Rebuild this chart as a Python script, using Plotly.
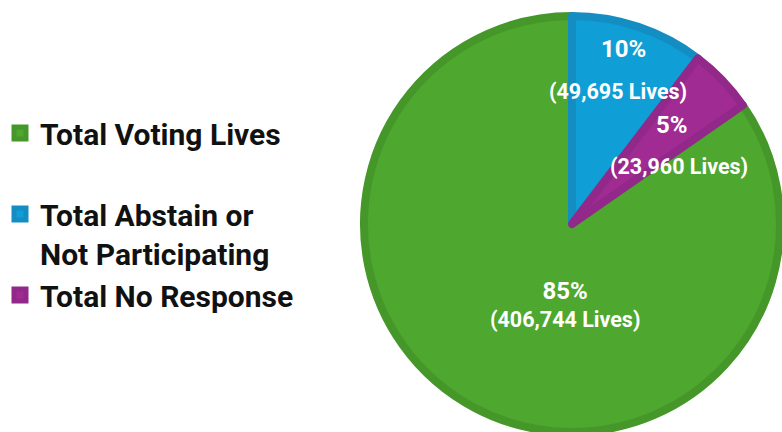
import plotly.graph_objects as go

# ---- data ----
labels = ["Total Voting Lives", "Total Abstain or Not Participating", "Total No Response"]
legend_text = ["Total Voting Lives<br> ", "Total Abstain or<br>Not Participating", "Total No Response"]
lives = [406744, 49695, 23960]

# ---- styles ----
fill_colors = ["#4EA72E", "#0F9ED5", "#A02B93"]
edge_colors = ["#45972A", "#148EC2", "#922889"]
W, H = 782, 432

total = sum(lives)
pct_text = [f"{round(100 * v / total)}%" for v in lives]
lives_text = [f"({v:,} Lives)" for v in lives]
rotation = 360.0 * (1 - lives[0] / total)

# pie placement (pixels)
cx, cy, r = 572, 224, 208

fig = go.Figure(
    go.Pie(
        labels=legend_text,
        values=lives,
        sort=False,
        direction="clockwise",
        rotation=rotation,
        textinfo="none",
        hoverinfo="label+value+percent",
        marker=dict(colors=fill_colors, line=dict(color=edge_colors, width=8)),
        domain=dict(x=[(cx - r) / W, min(1, (cx + r) / W)], y=[max(0, 1 - (cy + r) / H), 1 - (cy - r) / H]),
    )
)

ann = []
# large slice: two-line label in one text block
ann.append(dict(x=565 / W, y=1 - 304 / H, xref="paper", yref="paper",
                text=f"<span style='font-size:24px'><b>{pct_text[0]}</b></span><br><b>{lives_text[0]}</b>",
                showarrow=False, font=dict(family="Roboto", size=21.5, color="white"),
                xanchor="center", yanchor="middle", align="center"))
# small slices: percent and lives placed separately
pct_pos = [None, (623, 49), (672, 125)]
lives_pos = [None, (618, 91), (679, 166)]
for i in range(1, len(lives)):
    px, py = pct_pos[i]
    ann.append(dict(x=px / W, y=1 - py / H, xref="paper", yref="paper", text=f"<b>{pct_text[i]}</b>",
                    showarrow=False, font=dict(family="Roboto", size=24, color="white"),
                    xanchor="center", yanchor="middle"))
    lx, ly = lives_pos[i]
    ann.append(dict(x=lx / W, y=1 - ly / H, xref="paper", yref="paper", text=f"<b>{lives_text[i]}</b>",
                    showarrow=False, font=dict(family="Roboto", size=21.5, color="white"),
                    xanchor="center", yanchor="middle"))

fig.update_layout(
    width=W, height=H,
    margin=dict(l=0, r=0, t=0, b=0),
    paper_bgcolor="white", plot_bgcolor="white",
    showlegend=True,
    legend=dict(x=0, y=1 - 107 / H, xanchor="left", yanchor="top", valign="top",
                font=dict(family="Roboto", size=30, color="#111111", weight="bold"),
                bgcolor="rgba(0,0,0,0)", borderwidth=0),
    annotations=ann,
)

fig.write_html("out.html", config={"displayModeBar": False},
               post_script="document.body.style.margin='0';")
